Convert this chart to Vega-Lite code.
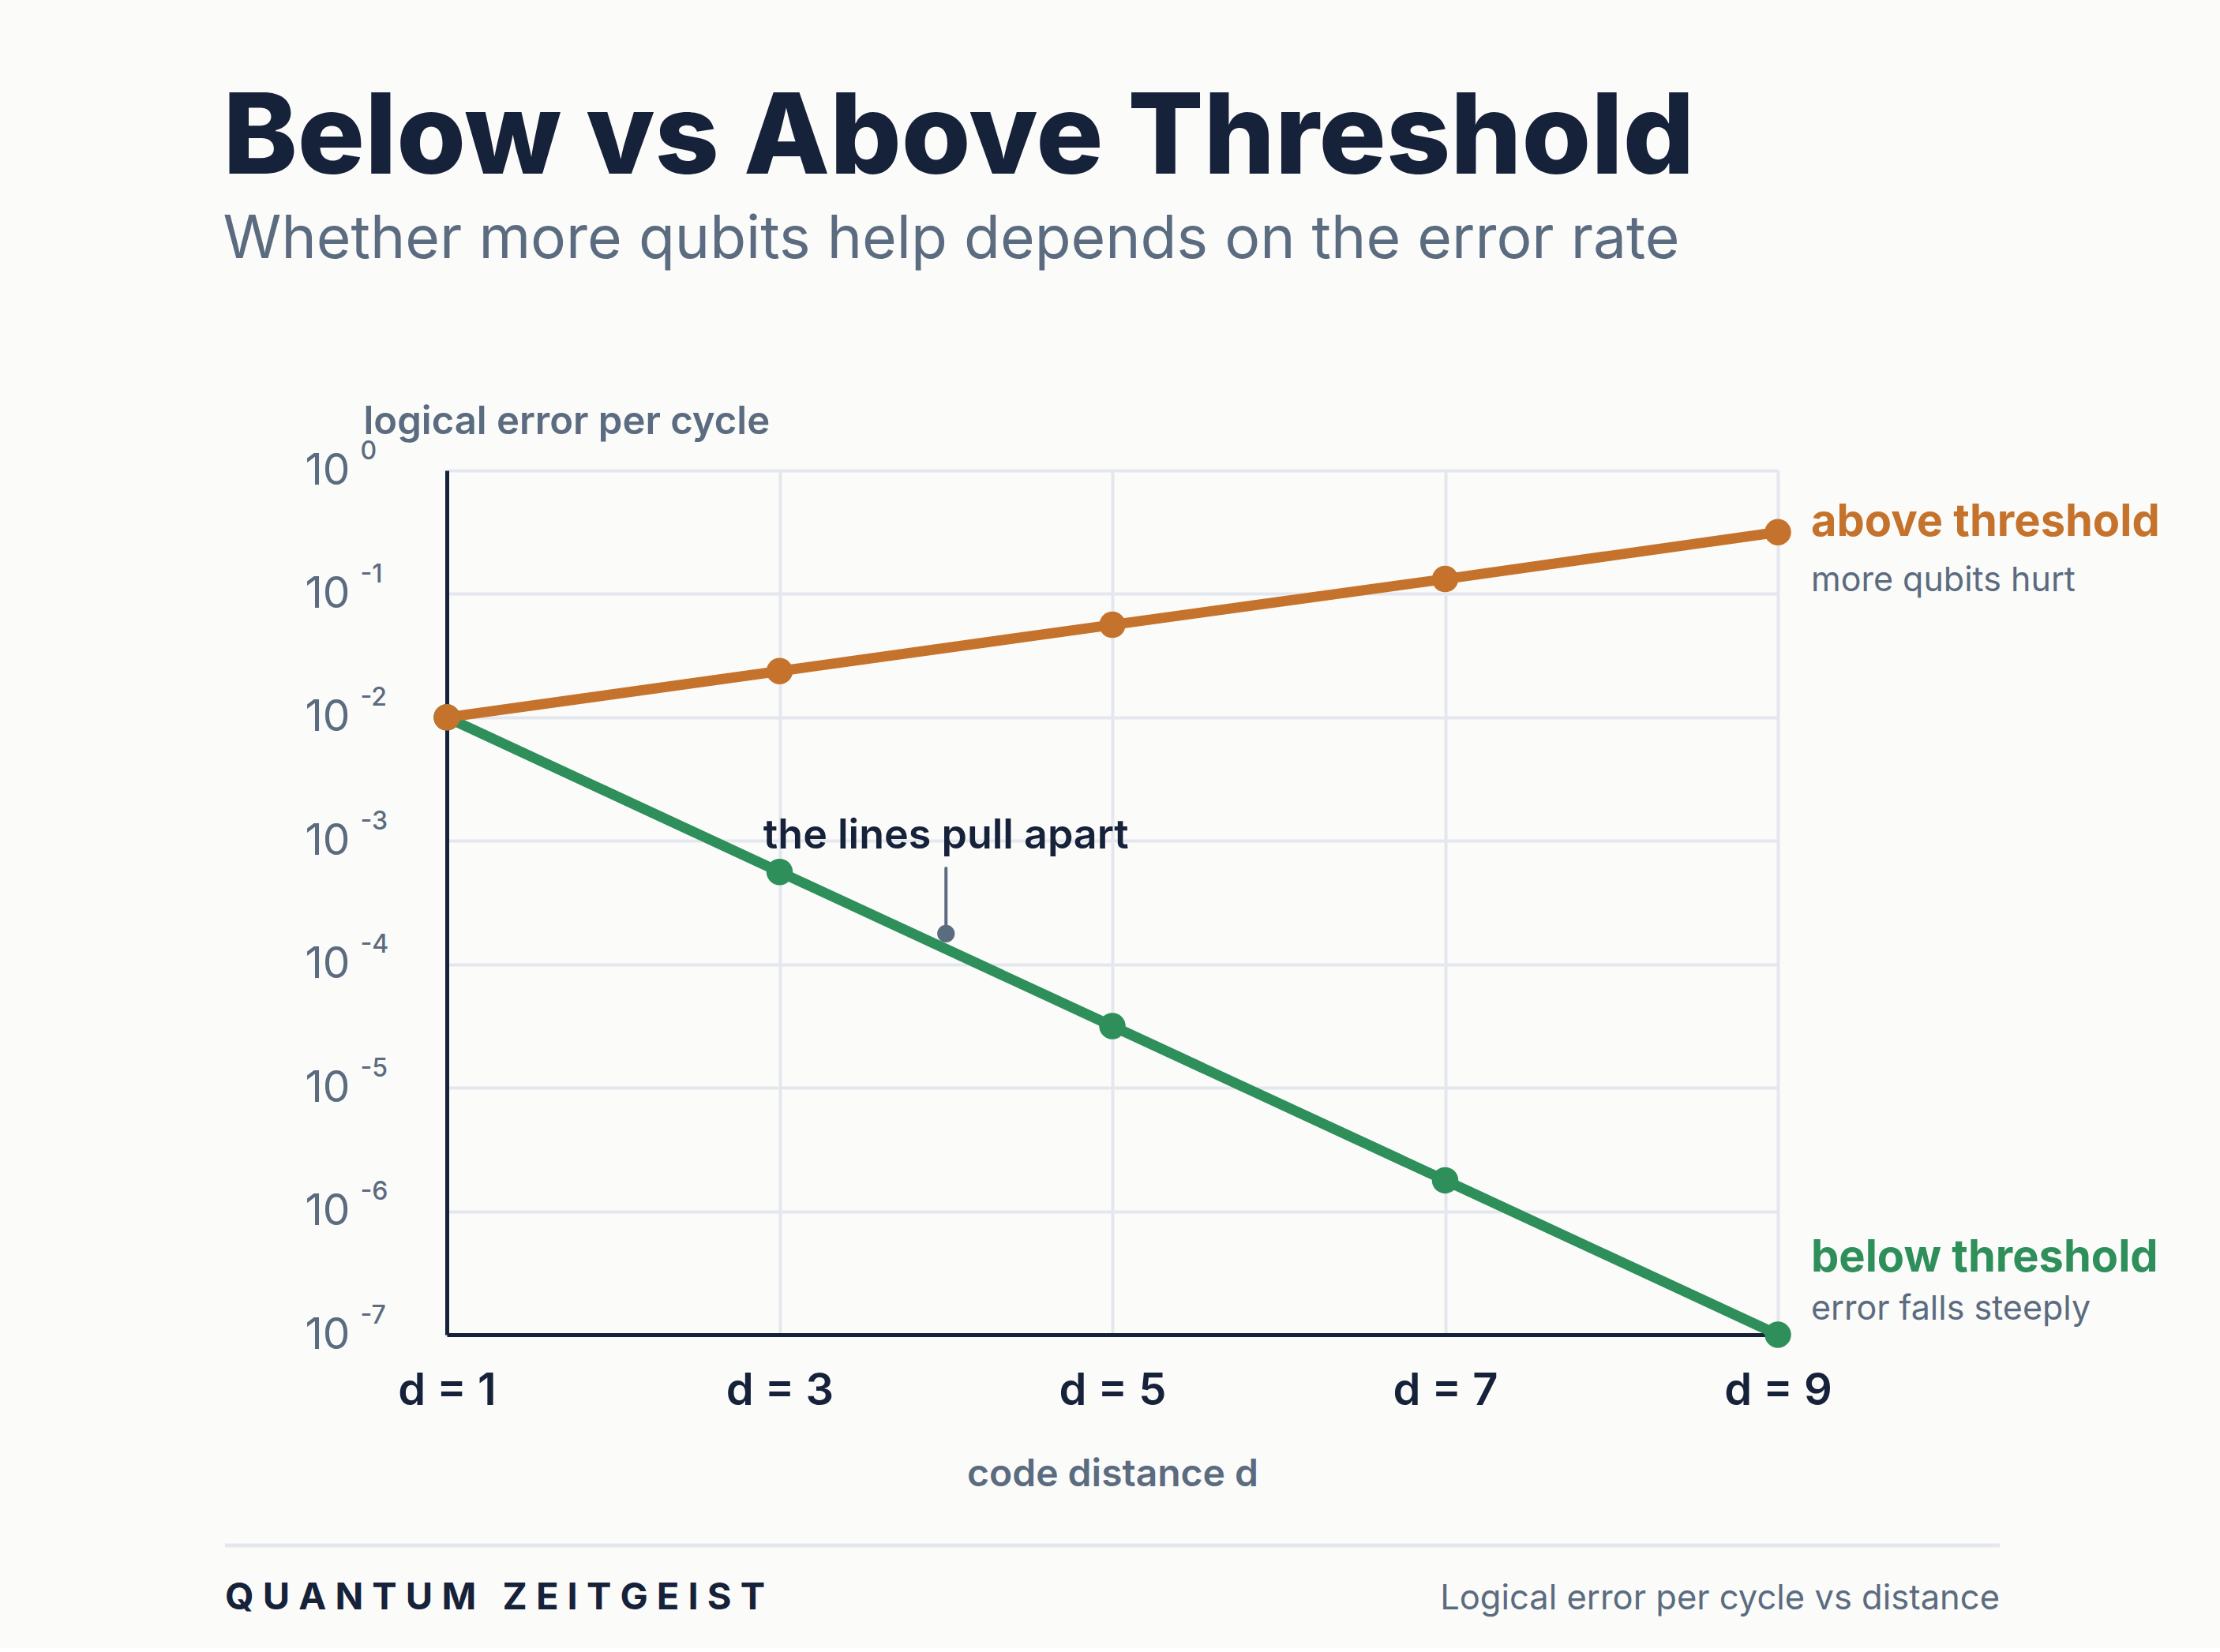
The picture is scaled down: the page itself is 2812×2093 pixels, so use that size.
{
  "$schema": "https://vega.github.io/schema/vega-lite/v6.json",
  "background": "#fbfbf9",
  "padding": {"left": 282, "top": 106, "right": 78, "bottom": 40},
  "autosize": {"type": "pad"},
  "config": {"font": "Inter", "view": {"stroke": null}},
  "title": {
    "text": "Below vs Above Threshold",
    "subtitle": "Whether more qubits help depends on the error rate",
    "anchor": "start",
    "frame": "bounds",
    "font": "Inter",
    "fontSize": 142,
    "fontWeight": 800,
    "color": "#16213a",
    "subtitleFont": "Inter",
    "subtitleFontSize": 75,
    "subtitleFontWeight": 400,
    "subtitleColor": "#5b6b80",
    "subtitlePadding": 18,
    "offset": 166
  },
  "datasets": {
    "series": [
      {"regime": "below", "d": 1, "error": 0.01},
      {"regime": "below", "d": 3, "error": 0.00056},
      {"regime": "below", "d": 5, "error": 0.0000316},
      {"regime": "below", "d": 7, "error": 0.00000178},
      {"regime": "below", "d": 9, "error": 0.0000001},
      {"regime": "above", "d": 1, "error": 0.01},
      {"regime": "above", "d": 3, "error": 0.0237},
      {"regime": "above", "d": 5, "error": 0.0562},
      {"regime": "above", "d": 7, "error": 0.132},
      {"regime": "above", "d": 9, "error": 0.316}
    ],
    "callout": [
      {"d": 4, "top": 0.0006, "error": 0.000177, "textAt": 0.000865, "note": "the lines pull apart"}
    ],
    "endLabels": [
      {"regime": "above", "d": 9, "error": 0.316, "name": "above threshold", "note": "more qubits hurt"},
      {"regime": "below", "d": 9, "error": 0.0000001, "name": "below threshold", "note": "error falls steeply"}
    ],
    "footerRule": [{"from": 0, "to": 1, "at": 1}],
    "footerText": [
      {"pos": 0, "at": 0, "side": "left", "label": "Q U A N T U M\u00a0\u00a0\u00a0Z E I T G E I S T"},
      {"pos": 1, "at": 0, "side": "right", "label": "Logical error per cycle vs distance"}
    ]
  },
  "spacing": 267,
  "bounds": "flush",
  "center": true,
  "vconcat": [
    {
      "width": 1686,
      "height": 1095,
      "resolve": {"axis": {"y": "independent"}},
      "layer": [
        {
          "data": {"name": "series"},
          "mark": {"type": "line", "strokeWidth": 13, "clip": false},
          "encoding": {
            "x": {
              "field": "d", "type": "quantitative",
              "scale": {"domain": [1, 9], "nice": false, "zero": false},
              "axis": {
                "values": [1, 3, 5, 7, 9],
                "labelExpr": "'d = ' + datum.value",
                "labelFlush": false,
                "title": "code distance d",
                "grid": true, "gridColor": "#e5e7ee", "gridWidth": 4,
                "domain": true, "domainColor": "#16213a", "domainWidth": 5,
                "ticks": false, "tickSize": 0,
                "labelPadding": 44, "labelFont": "Inter", "labelFontSize": 56, "labelFontWeight": 600, "labelColor": "#16213a",
                "titleFont": "Inter", "titleFontSize": 48, "titleFontWeight": 600, "titleColor": "#5b6b80",
                "titleBaseline": "alphabetic", "titleY": 191
              }
            },
            "y": {
              "field": "error", "type": "quantitative",
              "scale": {"type": "log", "domain": [0.0000001, 1], "nice": false},
              "axis": {
                "orient": "left",
                "values": [1, 0.1, 0.01, 0.001, 0.0001, 0.00001, 0.000001, 0.0000001],
                "labelExpr": "'10'",
                "title": "logical error per cycle",
                "grid": true, "gridColor": "#e5e7ee", "gridWidth": 4,
                "domain": true, "domainColor": "#16213a", "domainWidth": 5,
                "ticks": false, "tickSize": 0,
                "labelPadding": 180, "labelAlign": "left", "labelBaseline": "middle",
                "labelFont": "Inter", "labelFontSize": 55, "labelFontWeight": 400, "labelColor": "#5b6b80",
                "titleAngle": 0, "titleAlign": "left", "titleBaseline": "alphabetic", "titleX": -106, "titleY": -47,
                "titleFont": "Inter", "titleFontSize": 49, "titleFontWeight": 600, "titleColor": "#5b6b80"
              }
            },
            "color": {
              "field": "regime", "type": "nominal",
              "scale": {"domain": ["below", "above"], "range": ["#2e8f5a", "#c5732c"]},
              "legend": null
            }
          }
        },
        {
          "data": {"name": "series"},
          "mark": {"type": "circle", "size": 1120, "opacity": 1, "clip": false},
          "encoding": {
            "x": {"field": "d", "type": "quantitative"},
            "y": {
              "field": "error", "type": "quantitative",
              "axis": {
                "orient": "left",
                "values": [1, 0.1, 0.01, 0.001, 0.0001, 0.00001, 0.000001, 0.0000001],
                "labelExpr": "['0', '-1', '-2', '-3', '-4', '-5', '-6', '-7'][round(-log(datum.value) / LN10)]",
                "title": null,
                "grid": false, "domain": false, "ticks": false, "tickSize": 0,
                "labelPadding": 110, "labelAlign": "left", "labelBaseline": "middle", "labelOffset": -25,
                "labelFont": "Inter", "labelFontSize": 32, "labelFontWeight": 500, "labelColor": "#5b6b80"
              }
            },
            "color": {"field": "regime", "type": "nominal", "legend": null}
          }
        },
        {
          "data": {"name": "callout"},
          "mark": {"type": "rule", "color": "#5b6b80", "strokeWidth": 4, "strokeCap": "round"},
          "encoding": {
            "x": {"field": "d", "type": "quantitative"},
            "y": {"field": "top", "type": "quantitative", "axis": null},
            "y2": {"field": "error"}
          }
        },
        {
          "data": {"name": "callout"},
          "mark": {"type": "circle", "size": 490, "opacity": 1, "color": "#5b6b80"},
          "encoding": {
            "x": {"field": "d", "type": "quantitative"},
            "y": {"field": "error", "type": "quantitative", "axis": null}
          }
        },
        {
          "data": {"name": "callout"},
          "mark": {"type": "text", "align": "center", "baseline": "alphabetic", "font": "Inter", "fontSize": 52, "fontWeight": 600, "color": "#16213a"},
          "encoding": {
            "x": {"field": "d", "type": "quantitative"},
            "y": {"field": "textAt", "type": "quantitative", "axis": null},
            "text": {"field": "note"}
          }
        },
        {
          "data": {"name": "endLabels"},
          "transform": [{"filter": "datum.regime == 'above'"}],
          "mark": {"type": "text", "align": "left", "baseline": "alphabetic", "dx": 42, "dy": 5, "font": "Inter", "fontSize": 56, "fontWeight": 700, "color": "#c5732c", "clip": false},
          "encoding": {
            "x": {"field": "d", "type": "quantitative"},
            "y": {"field": "error", "type": "quantitative", "axis": null},
            "text": {"field": "name"}
          }
        },
        {
          "data": {"name": "endLabels"},
          "transform": [{"filter": "datum.regime == 'above'"}],
          "mark": {"type": "text", "align": "left", "baseline": "alphabetic", "dx": 42, "dy": 75, "font": "Inter", "fontSize": 43, "fontWeight": 400, "color": "#5b6b80", "clip": false},
          "encoding": {
            "x": {"field": "d", "type": "quantitative"},
            "y": {"field": "error", "type": "quantitative", "axis": null},
            "text": {"field": "note"}
          }
        },
        {
          "data": {"name": "endLabels"},
          "transform": [{"filter": "datum.regime == 'below'"}],
          "mark": {"type": "text", "align": "left", "baseline": "alphabetic", "dx": 42, "dy": -80, "font": "Inter", "fontSize": 56, "fontWeight": 700, "color": "#2e8f5a", "clip": false},
          "encoding": {
            "x": {"field": "d", "type": "quantitative"},
            "y": {"field": "error", "type": "quantitative", "axis": null},
            "text": {"field": "name"}
          }
        },
        {
          "data": {"name": "endLabels"},
          "transform": [{"filter": "datum.regime == 'below'"}],
          "mark": {"type": "text", "align": "left", "baseline": "alphabetic", "dx": 42, "dy": -19, "font": "Inter", "fontSize": 43, "fontWeight": 400, "color": "#5b6b80", "clip": false},
          "encoding": {
            "x": {"field": "d", "type": "quantitative"},
            "y": {"field": "error", "type": "quantitative", "axis": null},
            "text": {"field": "note"}
          }
        }
      ]
    },
    {
      "width": 2248,
      "height": 81,
      "layer": [
        {
          "data": {"name": "footerRule"},
          "mark": {"type": "rule", "color": "#e5e7ee", "strokeWidth": 5},
          "encoding": {
            "x": {"field": "from", "type": "quantitative", "scale": {"domain": [0, 1], "nice": false, "zero": false}, "axis": null},
            "x2": {"field": "to"},
            "y": {"field": "at", "type": "quantitative", "scale": {"domain": [0, 1], "nice": false}, "axis": null}
          }
        },
        {
          "data": {"name": "footerText"},
          "transform": [{"filter": "datum.side == 'left'"}],
          "mark": {"type": "text", "align": "left", "baseline": "alphabetic", "font": "Inter", "fontSize": 47, "fontWeight": 700, "color": "#16213a"},
          "encoding": {
            "x": {"field": "pos", "type": "quantitative"},
            "y": {"field": "at", "type": "quantitative"},
            "text": {"field": "label"}
          }
        },
        {
          "data": {"name": "footerText"},
          "transform": [{"filter": "datum.side == 'right'"}],
          "mark": {"type": "text", "align": "right", "baseline": "alphabetic", "font": "Inter", "fontSize": 43.5, "fontWeight": 400, "color": "#5b6b80"},
          "encoding": {
            "x": {"field": "pos", "type": "quantitative"},
            "y": {"field": "at", "type": "quantitative"},
            "text": {"field": "label"}
          }
        }
      ]
    }
  ]
}
